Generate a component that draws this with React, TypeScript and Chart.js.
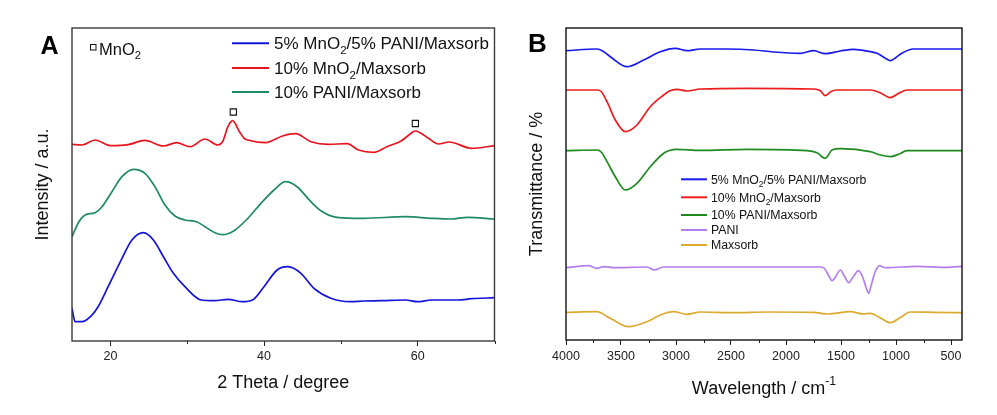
import React, { useEffect, useRef } from 'react';
import { Chart, registerables } from 'chart.js';

Chart.register(...registerables);

const FONT = '"Liberation Sans", Arial, Helvetica, sans-serif';

// ---------- Panel A: XRD ----------
const aBlueX = [15, 15.4, 16.3, 17.4, 18.4, 19.7, 21.3, 22.8, 24.3, 25.6, 26.9, 28.2, 29.7, 31.8, 33.6, 35.3, 37.2, 38.5, 40.0, 41.7, 43.1, 44.8, 46.5, 48.7, 51.2, 53.0, 55.3, 58.4, 60, 61.8, 65.3, 67.0, 70];
const aBlueY = [32.7, 19.3, 19.3, 24.3, 34.3, 54.3, 79.3, 101, 108.3, 101, 84.3, 67.7, 54.3, 41, 40.3, 41.7, 39.3, 41, 54.3, 71, 74.3, 67.7, 52.7, 42.7, 39.3, 40, 40.3, 41, 39.3, 41, 41, 42.3, 43.3];

const aRedX = [15, 16.3, 18.0, 20, 22.3, 24.5, 26.9, 28.6, 30.4, 32.3, 34.0, 34.6, 35.3, 35.9, 36.8, 37.4, 37.9, 40.2, 42.4, 44.1, 46.1, 48.4, 50.8, 52.3, 54.3, 56.0, 57.9, 58.7, 59.7, 60.6, 61.4, 62.7, 64.1, 67.0, 70];
const aRedY = [196.7, 196, 201, 195.3, 196.3, 200.7, 195, 198.3, 194.3, 202, 196, 199.3, 214.3, 220.3, 209.3, 202.7, 201, 198.3, 205, 207.3, 199.3, 196.7, 197.3, 191, 188.7, 194.3, 200.3, 205, 210, 207, 202.7, 197, 199, 192.7, 195.3];

const aGreenX = [15, 15.9, 16.7, 18.0, 18.9, 20.2, 21.5, 23.0, 24.5, 25.8, 27.1, 28.4, 29.7, 31.2, 32.3, 33.6, 34.6, 36.1, 37.9, 39.6, 41.3, 42.8, 44.3, 46.1, 47.4, 49.5, 53.0, 58.4, 61.8, 64.3, 66.5, 70];
const aGreenY = [104.3, 119.3, 126, 128.3, 134.3, 149.3, 164.3, 171.7, 167.7, 154.3, 136, 125, 121, 119.3, 114.3, 108.3, 106.3, 110.3, 122.7, 137.7, 151, 159.3, 154.3, 139.3, 130.3, 123.7, 122.7, 124.3, 122.7, 122, 123.7, 122];

const aMarkX = [36.0, 59.7];
const aMarkY = [229, 217.5];

const aLabels = ['5% MnO₂/5% PANI/Maxsorb', '10% MnO₂/Maxsorb', '10% PANI/Maxsorb'];
const aMajorTicks = [20, 40, 60];
const aMinorTicks = [30, 50, 70];

// ---------- Panel B: FTIR ----------
const bBlueX = [4000, 3718, 3660, 3597, 3445, 3294, 3143, 3006, 2900, 2779, 2536, 2294, 2113, 1870, 1749, 1643, 1506, 1385, 1234, 1173, 1100, 1052, 1000, 950, 840, 700, 400];
const bBlueY = [289.3, 291, 288.5, 283.3, 273.3, 280, 288.3, 291.7, 289.3, 291, 291, 290, 288, 286.7, 289.3, 286.3, 289, 290.7, 288.3, 286.7, 282, 279.3, 282.5, 286.5, 291, 291, 291];

const bRedX = [4000, 3718, 3680, 3627, 3552, 3461, 3355, 3234, 3112, 3060, 2991, 2900, 2779, 2355, 1749, 1690, 1643, 1590, 1536, 1234, 1140, 1052, 970, 900, 700, 400];
const bRedY = [250, 250, 248.5, 238.3, 220, 208.3, 215, 233.3, 245, 249, 250.7, 249, 251, 251.7, 251, 249.5, 244.3, 248.5, 250, 250, 247, 242.3, 247, 250, 250, 250];

const bGreenX = [4000, 3718, 3680, 3627, 3552, 3461, 3355, 3234, 3112, 3060, 2991, 2779, 2355, 1809, 1718, 1643, 1582, 1506, 1234, 1140, 1052, 970, 900, 700, 400];
const bGreenY = [189.3, 190, 188, 178.3, 163.3, 150, 156.7, 173.3, 186.7, 189.5, 190.7, 189.7, 190.7, 189.3, 187.3, 181.7, 190, 191.3, 188.3, 185, 183.3, 186, 189.3, 189.3, 189.3];

const bPaniX = [4000, 3794, 3718, 3658, 3567, 3264, 3197, 3112, 2476, 1688, 1650, 1610, 1582, 1550, 1506, 1470, 1430, 1390, 1340, 1300, 1270, 1249, 1225, 1190, 1149, 1110, 1082, 809, 536, 400];
const bPaniY = [72.3, 74.3, 71.7, 73.3, 72.3, 73, 70, 73, 73, 73, 71.5, 64, 59.3, 63, 70, 64, 57.3, 63, 69.3, 62, 52, 46.7, 55, 68, 74.3, 72.5, 72.3, 73.7, 72.7, 73.7];

const bMaxX = [4000, 3718, 3680, 3597, 3431, 3264, 3143, 3022, 2900, 2779, 2476, 2173, 1749, 1627, 1415, 1294, 1233, 1140, 1052, 960, 870, 658, 400];
const bMaxY = [27.7, 28.3, 27, 21.7, 13.3, 18.3, 25, 28.3, 25.7, 28, 27.3, 28, 27.7, 26, 28.3, 26, 26.7, 22, 17.3, 22.5, 28, 27.7, 27.3];

const bLabels = ['5% MnO₂/5% PANI/Maxsorb', '10% MnO₂/Maxsorb', '10% PANI/Maxsorb', 'PANI', 'Maxsorb'];
const bMajorTicks = [4000, 3500, 3000, 2500, 2000, 1500, 1000, 500];
const bMinorTicks = [3750, 3250, 2750, 2250, 1750, 1250, 750];

const pts = (x: number[], y: number[]) => x.map((v, i) => ({ x: v, y: y[i] }));

// Draws text, rendering "₂" as a subscript 2 and "⁻¹" as a superscript -1.
function richParts(text: string): { t: string; kind: 'n' | 'sub' | 'sup' }[] {
  const out: { t: string; kind: 'n' | 'sub' | 'sup' }[] = [];
  let buf = '';
  for (let i = 0; i < text.length; i++) {
    const c = text[i];
    if (c === '₂') {
      if (buf) out.push({ t: buf, kind: 'n' });
      buf = '';
      out.push({ t: '2', kind: 'sub' });
    } else if (c === '⁻' && text[i + 1] === '¹') {
      if (buf) out.push({ t: buf, kind: 'n' });
      buf = '';
      out.push({ t: '-1', kind: 'sup' });
      i++;
    } else buf += c;
  }
  if (buf) out.push({ t: buf, kind: 'n' });
  return out;
}

function richWidth(ctx: CanvasRenderingContext2D, text: string, size: number) {
  let w = 0;
  richParts(text).forEach((p) => {
    const s = p.kind === 'n' ? size : size * 0.68;
    ctx.font = `${s}px ${FONT}`;
    w += ctx.measureText(p.t).width;
  });
  return w;
}

function drawRich(ctx: CanvasRenderingContext2D, text: string, x: number, y: number, size: number) {
  let cx = x;
  richParts(text).forEach((p) => {
    const s = p.kind === 'n' ? size : size * 0.68;
    ctx.font = `${s}px ${FONT}`;
    const dy = p.kind === 'sub' ? size * 0.28 : p.kind === 'sup' ? -size * 0.52 : 0;
    ctx.fillText(p.t, cx, y + dy);
    cx += ctx.measureText(p.t).width;
  });
}

interface LegendCfg { dx: number; lineLen: number; textGap: number; rows: number[]; size: number; textDy: number; }
interface PanelCfg {
  datasets: any[];
  legendCount: number;
  xMin: number; xMax: number; reverse: boolean;
  major: number[]; minor: number[];
  yMax: number;
  xTitle: string; yTitle: string; titleSize: number;
  yTitlePad: number; xTitleBaseline: number; tickPad: number;
  padTop: number; padRight: number; yWidth: number; xHeight: number;
  label: string; labelX: number; labelY: number; labelSize: number;
  legend: LegendCfg; frameColor: string;
  note?: boolean;
}

function makePlugin(cfg: PanelCfg) {
  return {
    id: 'panelDeco',
    afterDraw(chart: any) {
      const ctx: CanvasRenderingContext2D = chart.ctx;
      const ca = chart.chartArea;
      const xs = chart.scales.x;
      ctx.save();
      // minor ticks
      ctx.strokeStyle = '#222';
      ctx.lineWidth = 1;
      cfg.minor.forEach((v) => {
        const px = Math.round(xs.getPixelForValue(v)) + 0.5;
        ctx.beginPath();
        ctx.moveTo(px, ca.bottom);
        ctx.lineTo(px, ca.bottom + 3);
        ctx.stroke();
      });
      // frame
      ctx.strokeStyle = cfg.frameColor;
      ctx.lineWidth = 1.4;
      ctx.strokeRect(ca.left, ca.top, ca.right - ca.left, ca.bottom - ca.top);
      // x axis title (with superscripts)
      ctx.fillStyle = '#111';
      ctx.textBaseline = 'alphabetic';
      ctx.textAlign = 'left';
      const tw = richWidth(ctx, cfg.xTitle, cfg.titleSize);
      drawRich(ctx, cfg.xTitle, (ca.left + ca.right) / 2 - tw / 2, cfg.xTitleBaseline, cfg.titleSize);
      // legend
      const lg = cfg.legend;
      for (let i = 0; i < cfg.legendCount; i++) {
        const ds = chart.data.datasets[i];
        const y = ca.top + lg.rows[i];
        const x0 = ca.left + lg.dx;
        ctx.strokeStyle = ds.borderColor;
        ctx.lineWidth = 2;
        ctx.beginPath();
        ctx.moveTo(x0, y);
        ctx.lineTo(x0 + lg.lineLen, y);
        ctx.stroke();
        ctx.fillStyle = '#111';
        drawRich(ctx, ds.label, x0 + lg.lineLen + lg.textGap, y + lg.textDy, lg.size);
      }
      // MnO2 note
      if (cfg.note) {
        ctx.strokeStyle = '#111';
        ctx.lineWidth = 1;
        ctx.strokeRect(ca.left + 18.5, ca.top + 16.5, 5.5, 5.5);
        ctx.fillStyle = '#111';
        drawRich(ctx, 'MnO₂', ca.left + 27, ca.top + 26.5, 16.5);
      }
      // panel label
      ctx.fillStyle = '#000';
      ctx.font = `bold ${cfg.labelSize}px ${FONT}`;
      ctx.fillText(cfg.label, cfg.labelX, cfg.labelY);
      ctx.restore();
    },
  };
}

function buildConfig(cfg: PanelCfg): any {
  return {
    type: 'line',
    data: { datasets: cfg.datasets },
    options: {
      animation: false,
      responsive: false,
      maintainAspectRatio: false,
      events: [],
      layout: { padding: { top: cfg.padTop, right: cfg.padRight, left: 0, bottom: 0 } },
      plugins: { legend: { display: false }, title: { display: false }, tooltip: { enabled: false } },
      elements: { point: { radius: 0 } },
      scales: {
        x: {
          type: 'linear',
          min: cfg.xMin,
          max: cfg.xMax,
          reverse: cfg.reverse,
          afterBuildTicks: (s: any) => { s.ticks = cfg.major.map((v) => ({ value: v })); },
          afterFit: (s: any) => { s.height = cfg.xHeight; },
          grid: { display: true, drawOnChartArea: false, drawTicks: true, tickLength: 5, color: '#222', lineWidth: 1 },
          border: { display: false },
          ticks: {
            color: '#222',
            padding: cfg.tickPad,
            maxRotation: 0,
            autoSkip: false,
            font: { size: 12.5, family: FONT },
            callback: (v: any) => String(v),
          },
          title: { display: false, text: cfg.xTitle },
        },
        y: {
          type: 'linear',
          min: 0,
          max: cfg.yMax,
          afterFit: (s: any) => { s.width = cfg.yWidth; },
          grid: { display: false },
          border: { display: false },
          ticks: { display: false },
          title: {
            display: true,
            text: cfg.yTitle,
            color: '#111',
            font: { size: cfg.titleSize, family: FONT },
            padding: { top: cfg.yTitlePad, bottom: 0 },
          },
        },
      },
    },
    plugins: [makePlugin(cfg)],
  };
}

const lineDs = (label: string, x: number[], y: number[], color: string) => ({
  label,
  data: pts(x, y),
  borderColor: color,
  backgroundColor: color,
  borderWidth: 1.7,
  pointRadius: 0,
  fill: false,
  cubicInterpolationMode: 'monotone',
});

const panelA: PanelCfg = {
  datasets: [
    lineDs(aLabels[0], aBlueX, aBlueY, '#1414d8'),
    lineDs(aLabels[1], aRedX, aRedY, '#e8141e'),
    lineDs(aLabels[2], aGreenX, aGreenY, '#1f8a66'),
    {
      label: 'MnO₂',
      data: pts(aMarkX, aMarkY),
      showLine: false,
      pointStyle: 'rect',
      pointRadius: 4.4,
      pointBackgroundColor: '#fff',
      pointBorderColor: '#111',
      pointBorderWidth: 1.1,
      borderColor: '#111',
    },
  ],
  legendCount: 3,
  xMin: 15, xMax: 70, reverse: false,
  major: aMajorTicks, minor: aMinorTicks,
  yMax: 313,
  xTitle: '2 Theta / degree', yTitle: 'Intensity / a.u.', titleSize: 18,
  yTitlePad: 32.5, xTitleBaseline: 388, tickPad: 3.5,
  padTop: 28, padRight: 3, yWidth: 72, xHeight: 74,
  label: 'A', labelX: 40.5, labelY: 53.5, labelSize: 25,
  legend: { dx: 160, lineLen: 37, textGap: 5, rows: [15.3, 40, 64], size: 17, textDy: 6 },
  frameColor: '#3a3a3a',
  note: true,
};

const panelB: PanelCfg = {
  datasets: [
    lineDs(bLabels[0], bBlueX, bBlueY, '#1a1aee'),
    lineDs(bLabels[1], bRedX, bRedY, '#ee1c1c'),
    lineDs(bLabels[2], bGreenX, bGreenY, '#1e8a1e'),
    lineDs(bLabels[3], bPaniX, bPaniY, '#b37eec'),
    lineDs(bLabels[4], bMaxX, bMaxY, '#dcaa30'),
  ],
  legendCount: 5,
  xMin: 400, xMax: 4000, reverse: true,
  major: bMajorTicks, minor: bMinorTicks,
  yMax: 312,
  xTitle: 'Wavelength / cm⁻¹', yTitle: 'Transmittance / %', titleSize: 18,
  yTitlePad: 26, xTitleBaseline: 394, tickPad: 3.7,
  padTop: 28, padRight: 35, yWidth: 66, xHeight: 75,
  label: 'B', labelX: 28, labelY: 51.7, labelSize: 26,
  legend: { dx: 115, lineLen: 26, textGap: 4, rows: [151.3, 169.3, 187, 202, 217], size: 12.3, textDy: 4.4 },
  frameColor: '#111',
};

function Panel({ cfg, left, width }: { cfg: PanelCfg; left: number; width: number }) {
  const ref = useRef<HTMLCanvasElement>(null);
  useEffect(() => {
    if (!ref.current) return;
    const chart = new Chart(ref.current, buildConfig(cfg));
    return () => chart.destroy();
  }, [cfg]);
  return (
    <canvas
      ref={ref}
      width={width}
      height={415}
      style={{ position: 'absolute', left, top: 0, width, height: 415 }}
    />
  );
}

export default function App() {
  return (
    <div style={{ position: 'fixed', left: 0, top: 0, width: 997, height: 415, background: '#fff', overflow: 'hidden' }}>
      <Panel cfg={panelA} left={0} width={500} />
      <Panel cfg={panelB} left={500} width={497} />
    </div>
  );
}
